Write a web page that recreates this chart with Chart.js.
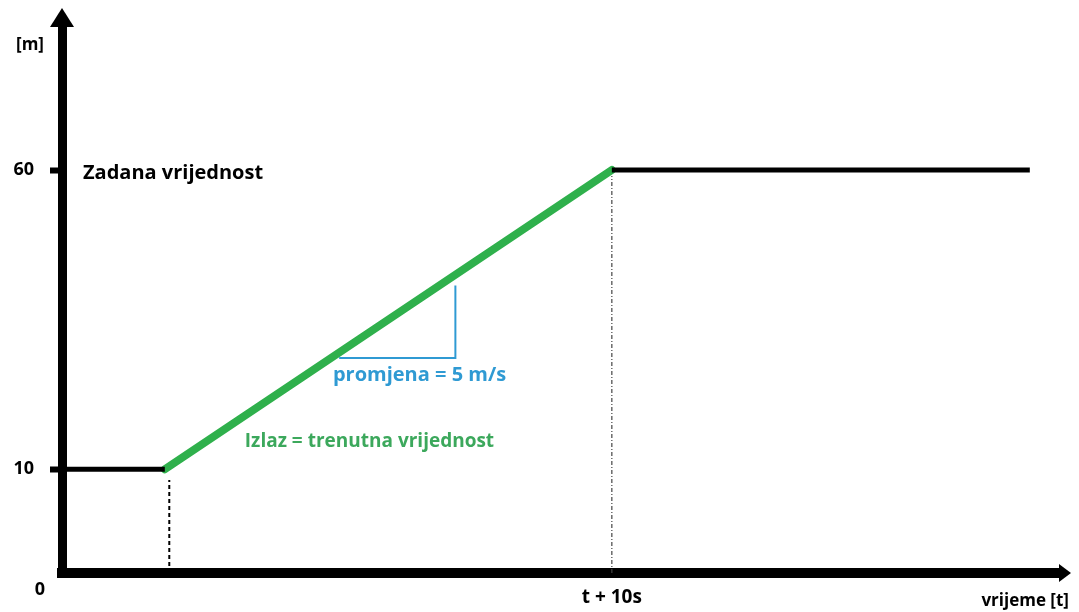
<!DOCTYPE html>
<html>
<head>
<meta charset="utf-8">
<script src="https://cdn.jsdelivr.net/npm/chart.js@4"></script>
<style>
  html, body { margin: 0; padding: 0; background: #fff; }
  #wrap { width: 1079px; height: 612px; }
</style>
</head>
<body>
<div id="wrap"><canvas id="grafik"></canvas></div>
<script>
// vrijednosti (vrijeme u s, položaj u m)
const tPocetak = 2.3;
const tKraj = 12.3;
const tZadnje = 21.65;
const zadanaPrije = [10, 10];
const zadanaPoslije = [60, 60];
const izlaz = [10, 60];
const yTicks = [10, 60];
const xTicks = [12.3];
const xTickLabels = ['t + 10s'];
const trokutX = [6.2, 8.8, 8.8];
const trokutY = [28.6, 28.6, 40.7];

// granice osi
const xMin = 0, xMax = 22.37;
const yMin = -7.33, yMax = 83.93;

const crna = '#000000';
const zelena = '#2fb04c';
const plava = '#2f9ad3';
const font = '"Open Sans", Lato, sans-serif';

function tocke(xs, ys) {
    return xs.map((x, i) => ({ x: x, y: ys[i] }));
}

const strelicePlugin = {
    id: 'strelice',
    afterDraw: (chart) => {
        const ctx = chart.ctx;
        const a = chart.chartArea;
        ctx.save();
        ctx.fillStyle = crna;
        // strelica na y osi
        ctx.beginPath();
        ctx.moveTo(a.left, 8);
        ctx.lineTo(a.left + 12, 27);
        ctx.lineTo(a.left - 12, 27);
        ctx.closePath();
        ctx.fill();
        // strelica na x osi
        ctx.beginPath();
        ctx.moveTo(a.right + 9, a.bottom);
        ctx.lineTo(a.right - 3, a.bottom - 9);
        ctx.lineTo(a.right - 3, a.bottom + 9);
        ctx.closePath();
        ctx.fill();

        const x = chart.scales.x;
        const y = chart.scales.y;
        ctx.textBaseline = 'middle';
        ctx.textAlign = 'left';
        ctx.font = 'bold 17px ' + font;
        ctx.fillText('[m]', 16, 45);
        ctx.textAlign = 'center';
        ctx.font = 'bold 18px ' + font;
        ctx.fillText('0', 40, 590);
        ctx.textAlign = 'right';
        ctx.font = 'bold 17px ' + font;
        ctx.fillText('vrijeme [t]', 1069, 601);

        ctx.textAlign = 'left';
        ctx.font = 'bold 20px ' + font;
        ctx.fillText('Zadana vrijednost', x.getPixelForValue(0.47), y.getPixelForValue(60) + 3);

        ctx.fillStyle = plava;
        ctx.fillText('promjena = 5 m/s', x.getPixelForValue(6.06), y.getPixelForValue(25.7));

        ctx.fillStyle = '#3ca85c';
        ctx.font = 'bold 19px ' + font;
        ctx.fillText('Izlaz = trenutna vrijednost', x.getPixelForValue(4.09), y.getPixelForValue(14.6));
        ctx.restore();
    }
};

const ctx = document.getElementById('grafik').getContext('2d');

new Chart(ctx, {
    type: 'line',
    data: {
        datasets: [
            {
                data: tocke([xMin, tPocetak], zadanaPrije),
                borderColor: crna,
                borderWidth: 5
            },
            {
                data: tocke([tKraj, tZadnje], zadanaPoslije),
                borderColor: crna,
                borderWidth: 5
            },
            {
                data: tocke([tPocetak + 0.1, tPocetak + 0.1], [yMin, 8.2]),
                borderColor: crna,
                borderWidth: 2,
                borderDash: [4, 3]
            },
            {
                data: tocke([tKraj, tKraj], [yMin, 59]),
                borderColor: '#444',
                borderWidth: 1.2,
                borderDash: [4, 2, 1, 2]
            },
            {
                data: tocke(trokutX, trokutY),
                borderColor: plava,
                borderWidth: 2
            },
            {
                data: tocke([tPocetak, tKraj], izlaz),
                borderColor: zelena,
                borderWidth: 8,
                borderCapStyle: 'round'
            }
        ]
    },
    options: {
        responsive: true,
        maintainAspectRatio: false,
        animation: false,
        layout: { padding: { top: 20, right: 17, left: 0, bottom: 0 } },
        elements: {
            point: { radius: 0 },
            line: { tension: 0, fill: false }
        },
        plugins: {
            legend: { display: false },
            tooltip: { enabled: false }
        },
        scales: {
            x: {
                type: 'linear',
                min: xMin,
                max: xMax,
                afterFit: (s) => { s.height = 39; },
                afterBuildTicks: (s) => { s.ticks = xTicks.map(v => ({ value: v })); },
                grid: { display: true, drawOnChartArea: false, drawTicks: false },
                border: { display: true, color: crna, width: 10 },
                ticks: {
                    padding: 13,
                    color: crna,
                    font: { family: font, size: 19, weight: 'bold' },
                    maxRotation: 0,
                    autoSkip: false,
                    callback: (v) => xTickLabels[xTicks.indexOf(v)]
                }
            },
            y: {
                type: 'linear',
                min: yMin,
                max: yMax,
                afterFit: (s) => { s.width = 62; },
                afterBuildTicks: (s) => { s.ticks = yTicks.map(v => ({ value: v })); },
                grid: {
                    drawOnChartArea: false,
                    drawTicks: true,
                    tickLength: 12,
                    tickWidth: 6,
                    tickColor: crna
                },
                border: { display: true, color: crna, width: 9 },
                ticks: {
                    padding: 16,
                    color: crna,
                    font: { family: font, size: 18, weight: 'bold' },
                    callback: (v) => String(v)
                }
            }
        }
    },
    plugins: [strelicePlugin]
});
</script>
</body>
</html>
